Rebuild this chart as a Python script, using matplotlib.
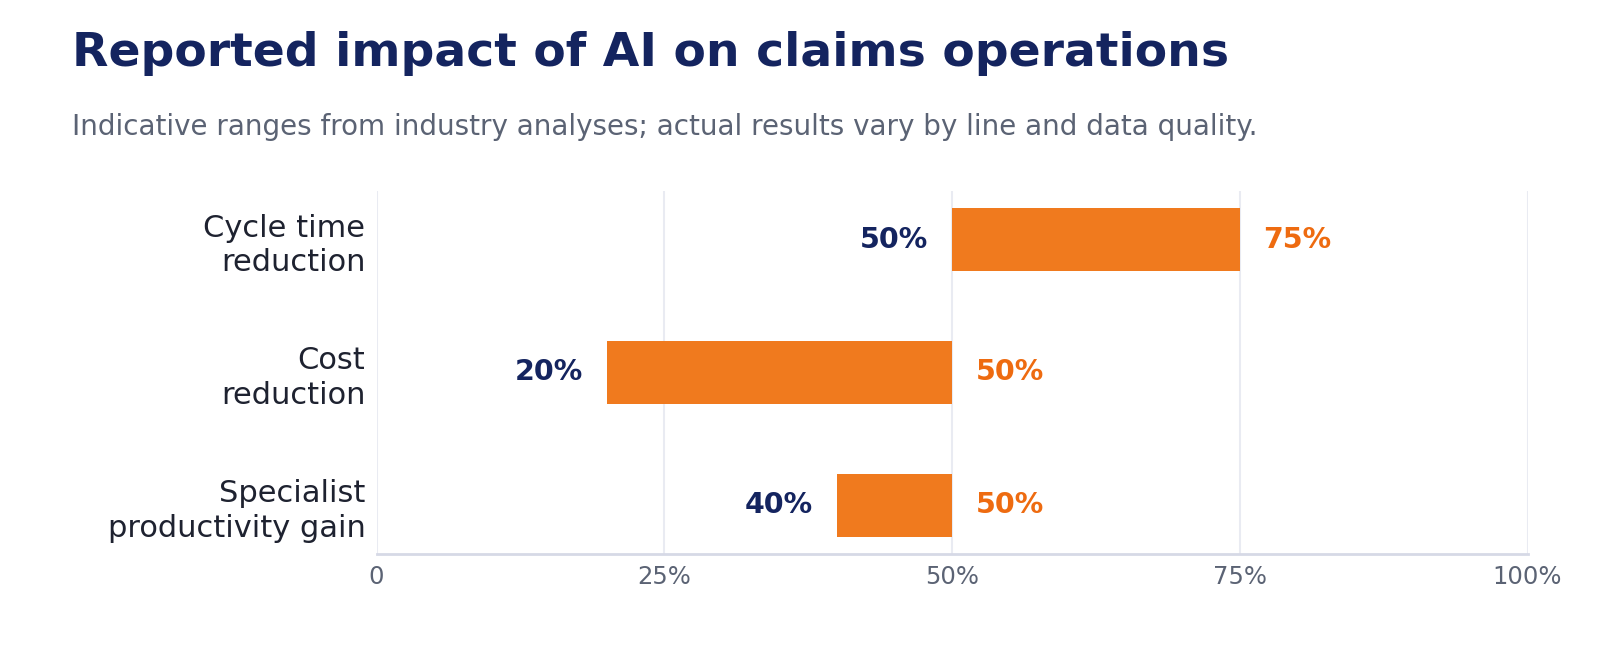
import matplotlib
matplotlib.use("Agg")
import matplotlib.pyplot as plt

plt.rcParams['font.family'] = ['DejaVu Sans']

categories = ["Cycle time\nreduction", "Cost\nreduction", "Specialist\nproductivity gain"]
low_values = [50, 20, 40]
high_values = [75, 50, 50]
x_ticks = [0, 25, 50, 75, 100]
x_tick_labels = ["0", "25%", "50%", "75%", "100%"]

title = "Reported impact of AI on claims operations"
subtitle = "Indicative ranges from industry analyses; actual results vary by line and data quality."

NAVY = "#14245F"
ORANGE = "#F07A1E"
ORANGE_TXT = "#EE6B10"
GRAY = "#5B6374"
DARK = "#1E2230"

W, H = 1600, 660
fig = plt.figure(figsize=(W / 100, H / 100), dpi=100)
ax = fig.add_axes([376.5 / W, 1 - 554 / H, (1527.5 - 376.5) / W, (554 - 191) / H])

ypos = list(range(len(categories)))
widths = [h - l for l, h in zip(low_values, high_values)]
ax.barh(ypos, widths, left=low_values, height=0.48, color=ORANGE, zorder=3)

for y, lo, hi in zip(ypos, low_values, high_values):
    ax.annotate(f"{lo}%", xy=(lo, y), xytext=(-17, 0), textcoords="offset points",
                ha="right", va="center", fontsize=20.5, fontweight="bold", color=NAVY)
    ax.annotate(f"{hi}%", xy=(hi, y), xytext=(17, 0), textcoords="offset points",
                ha="left", va="center", fontsize=20.5, fontweight="bold", color=ORANGE_TXT)

ax.set_xlim(0, 100)
ax.set_ylim(2.365, -0.365)
ax.set_xticks(x_ticks)
ax.set_xticklabels(x_tick_labels)
ax.set_yticks(ypos)
ax.set_yticklabels(categories, linespacing=1.25)
ax.tick_params(axis="x", length=0, pad=8, labelsize=17.5, labelcolor=GRAY)
ax.tick_params(axis="y", length=0, pad=8, labelsize=22, labelcolor=DARK)

ax.grid(axis="x", color="#E9EBF2", linewidth=1.5, zorder=0)
for s in ["top", "right", "left"]:
    ax.spines[s].set_visible(False)
ax.spines["bottom"].set_color("#D6D9E6")
ax.spines["bottom"].set_linewidth(2)

fig.text(71.5 / W, 1 - 53.5 / H, title, fontsize=34, fontweight="bold", color=NAVY,
         ha="left", va="center")
fig.text(71.5 / W, 1 - 127 / H, subtitle, fontsize=20, color=GRAY,
         ha="left", va="center")

fig.savefig("out.png", dpi=100, facecolor="white")
